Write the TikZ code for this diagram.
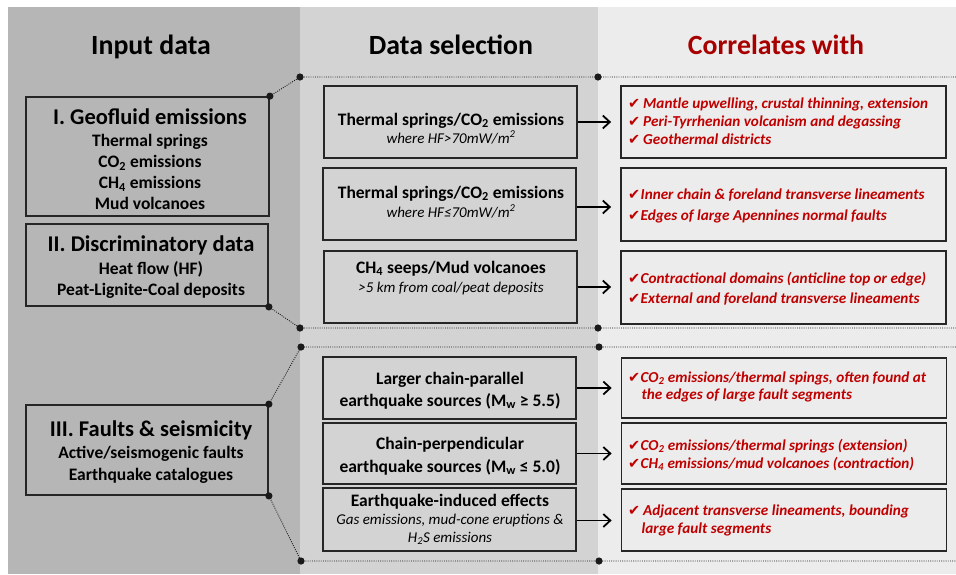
\documentclass[tikz,border=0pt]{standalone}
\usepackage{fontspec}
\setmainfont{Carlito}
\newfontfamily\symfont{DejaVu Sans}
\usetikzlibrary{arrows.meta}
\definecolor{leftbg}{HTML}{B6B6B6}
\definecolor{midbg}{HTML}{D3D3D3}
\definecolor{rightbg}{HTML}{ECECEC}
\definecolor{boxline}{HTML}{262626}
\definecolor{dotc}{HTML}{1A1A1A}
\definecolor{hdrred}{HTML}{A80000}
\definecolor{redtxt}{HTML}{C00000}
\newcommand{\ck}{{\symfont\fontsize{14.5}{16}\selectfont ✔}}
\newcommand{\cka}{\makebox[15pt][l]{\ck}}
\newcommand{\ckb}{\makebox[12.5pt][l]{\ck}}
\tikzset{
  hdr/.style={font=\fontsize{27.8}{33}\selectfont\bfseries, anchor=base, inner sep=0pt},
  ttl/.style={font=\fontsize{22.5}{27}\selectfont\bfseries, anchor=base, inner sep=0pt},
  sub/.style={font=\fontsize{17.5}{21}\selectfont\bfseries, anchor=base, inner sep=0pt},
  itl/.style={font=\fontsize{15}{18}\selectfont\itshape, anchor=base, inner sep=0pt},
  redl/.style={font=\fontsize{15.2}{18}\selectfont\bfseries\itshape, text=redtxt, anchor=base west, inner sep=0pt},
  box/.style={draw=boxline, line width=1.8pt, inner sep=0pt},
  dotl/.style={draw=dotc, line width=0.9pt, dash pattern=on 0.9pt off 1.3pt},
  blob/.style={fill=dotc},
  arr/.style={draw=black, line width=1.8pt, -{Straight Barb[length=7pt,width=13pt,line width=1.8pt]}, shorten >=9pt},
}
\begin{document}
\begin{tikzpicture}[x=1pt,y=-1pt]
\useasboundingbox (0,0) rectangle (956,574);
% column backgrounds
\fill[leftbg] (8,7) rectangle (300,574);
\fill[midbg] (300,7) rectangle (598,574);
\fill[rightbg] (598,7) rectangle (956,574);
% headers
\node[hdr] (h1) at (151,54) {Input data};
\node[hdr] (h2) at (451,54) {Data selection};
\node[hdr, text=hdrred] (h3) at (776,54) {Correlates with};
% left boxes
\node[box, minimum width=243pt, minimum height=119pt] (gI) at (147.5,156.5) {};
\node[box, minimum width=242pt, minimum height=82pt] (gII) at (147,265) {};
\node[box, minimum width=242pt, minimum height=90pt] (gIII) at (147,450) {};
\node[ttl] (tIa) at (150,124) {I. Geofluid emissions};
\node[sub] (tIb) at (150,146.5) {Thermal springs};
\node[sub] (tIc) at (150,167.5) {CO\textsubscript{2} emissions};
\node[sub] (tId) at (150,188.5) {CH\textsubscript{4} emissions};
\node[sub] (tIe) at (150,209.5) {Mud volcanoes};
\node[ttl] (tIIa) at (151,251) {II. Discriminatory data};
\node[sub] (tIIb) at (151,274) {Heat flow (HF)};
\node[sub] (tIIc) at (151,295) {Peat-Lignite-Coal deposits};
\node[ttl] (tIIIa) at (151,436) {III. Faults \& seismicity};
\node[sub] (tIIIb) at (151,458) {Active/seismogenic faults};
\node[sub] (tIIIc) at (151,480) {Earthquake catalogues};
% middle boxes
\node[box, minimum width=253pt, minimum height=72pt] (m1) at (450.5,122) {};
\node[box, minimum width=253pt, minimum height=72pt] (m2) at (449.5,204) {};
\node[box, minimum width=253pt, minimum height=72pt] (m3) at (450.5,287) {};
\node[box, minimum width=253pt, minimum height=62pt] (m4) at (449.5,388) {};
\node[box, minimum width=253pt, minimum height=61pt] (m5) at (449.5,453.5) {};
\node[box, minimum width=253pt, minimum height=63pt] (m6) at (449.5,519.5) {};
\node[sub] (m1a) at (451,125) {Thermal springs/CO\textsubscript{2} emissions};
\node[itl] (m1b) at (451,143) {where HF>70mW/m\textsuperscript{2}};
\node[sub] (m2a) at (451,198) {Thermal springs/CO\textsubscript{2} emissions};
\node[itl] (m2b) at (451,217) {where HF≤70mW/m\textsuperscript{2}};
\node[sub] (m3a) at (451,273) {CH\textsubscript{4} seeps/Mud volcanoes};
\node[itl] (m3b) at (451,292) {>5 km from coal/peat deposits};
\node[sub] (m4a) at (450,384) {Larger chain-parallel};
\node[sub] (m4b) at (450,406) {earthquake sources (M\textsubscript{w} ≥ 5.5)};
\node[sub] (m5a) at (450,449) {Chain-perpendicular};
\node[sub] (m5b) at (450,472) {earthquake sources (M\textsubscript{w} ≤ 5.0)};
\node[sub] (m6a) at (450,506) {Earthquake-induced effects};
\node[itl] (m6b) at (450,524) {Gas emissions, mud-cone eruptions \&};
\node[itl] (m6c) at (450,542) {H\textsubscript{2}S emissions};
% right boxes
\node[box, minimum width=325pt, minimum height=72pt] (r1) at (783.5,122) {};
\node[box, minimum width=325pt, minimum height=73pt] (r2) at (783.5,204.5) {};
\node[box, minimum width=325pt, minimum height=73pt] (r3) at (783.5,287.5) {};
\node[box, minimum width=325pt, minimum height=60pt] (r4) at (784,388) {};
\node[box, minimum width=325pt, minimum height=61pt] (r5) at (784,453.5) {};
\node[box, minimum width=325pt, minimum height=62pt] (r6) at (784,520) {};
\node[redl] (r1a) at (628,108) {\cka Mantle upwelling, crustal thinning, extension};
\node[redl] (r1b) at (628,126) {\cka Peri-Tyrrhenian volcanism and degassing};
\node[redl] (r1c) at (628,144) {\cka Geothermal districts};
\node[redl] (r2a) at (628,199) {\ckb Inner chain \& foreland transverse lineaments};
\node[redl] (r2b) at (628,220) {\ckb Edges of large Apennines normal faults};
\node[redl] (r3a) at (628,283) {\ckb Contractional domains (anticline top or edge)};
\node[redl] (r3b) at (628,303) {\ckb External and foreland transverse lineaments};
\node[redl] (r4a) at (628,382) {\ckb CO\textsubscript{2} emissions/thermal spings, often found at};
\node[redl] (r4b) at (628,399.5) {\hspace{13.5pt}the edges of large fault segments};
\node[redl] (r5a) at (628,450) {\ckb CO\textsubscript{2} emissions/thermal springs (extension)};
\node[redl] (r5b) at (628,468) {\ckb CH\textsubscript{4} emissions/mud volcanoes (contraction)};
\node[redl] (r6a) at (628,515) {\cka Adjacent transverse lineaments, bounding};
\node[redl] (r6b) at (628,533) {\hspace{13.5pt}large fault segments};
% arrows
\draw[arr] (m1.east) -- (m1.east -| r1.west);
\draw[arr] ([yshift=-3pt]m2.east) -- ([yshift=-3pt]m2.east -| r2.west);
\draw[arr] (m3.east) -- (m3.east -| r3.west);
\draw[arr] (m4.east) -- (m4.east -| r4.west);
\draw[arr] (m5.east) -- (m5.east -| r5.west);
\draw[arr] ([yshift=-1pt]m6.east) -- ([yshift=-1pt]m6.east -| r6.west);
% dotted separators
\coordinate (a1) at (300,77); \coordinate (b1) at (598,77); \coordinate (c1) at (956,77);
\coordinate (a2) at (300,328); \coordinate (b2) at (598,328); \coordinate (c2) at (956,328);
\coordinate (a3) at (301,347); \coordinate (b3) at (599,347); \coordinate (c3) at (956,347);
\coordinate (a4) at (301,561); \coordinate (b4) at (599,561); \coordinate (c4) at (956,561);
\draw[dotl] (gI.north east) -- (a1) -- (b1) -- (c1);
\draw[dotl] (gII.south east) -- (a2) -- (b2) -- (c2);
\draw[dotl] (gIII.north east) -- (a3) -- (b3) -- (c3);
\draw[dotl] (gIII.south east) -- (a4) -- (b4) -- (c4);
\foreach \p in {gI.north east, gII.south east, gIII.north east, gIII.south east, a1, b1, a2, b2, a3, b3, a4, b4}
  \fill[blob] (\p) circle (3.6pt);
\end{tikzpicture}
\end{document}
